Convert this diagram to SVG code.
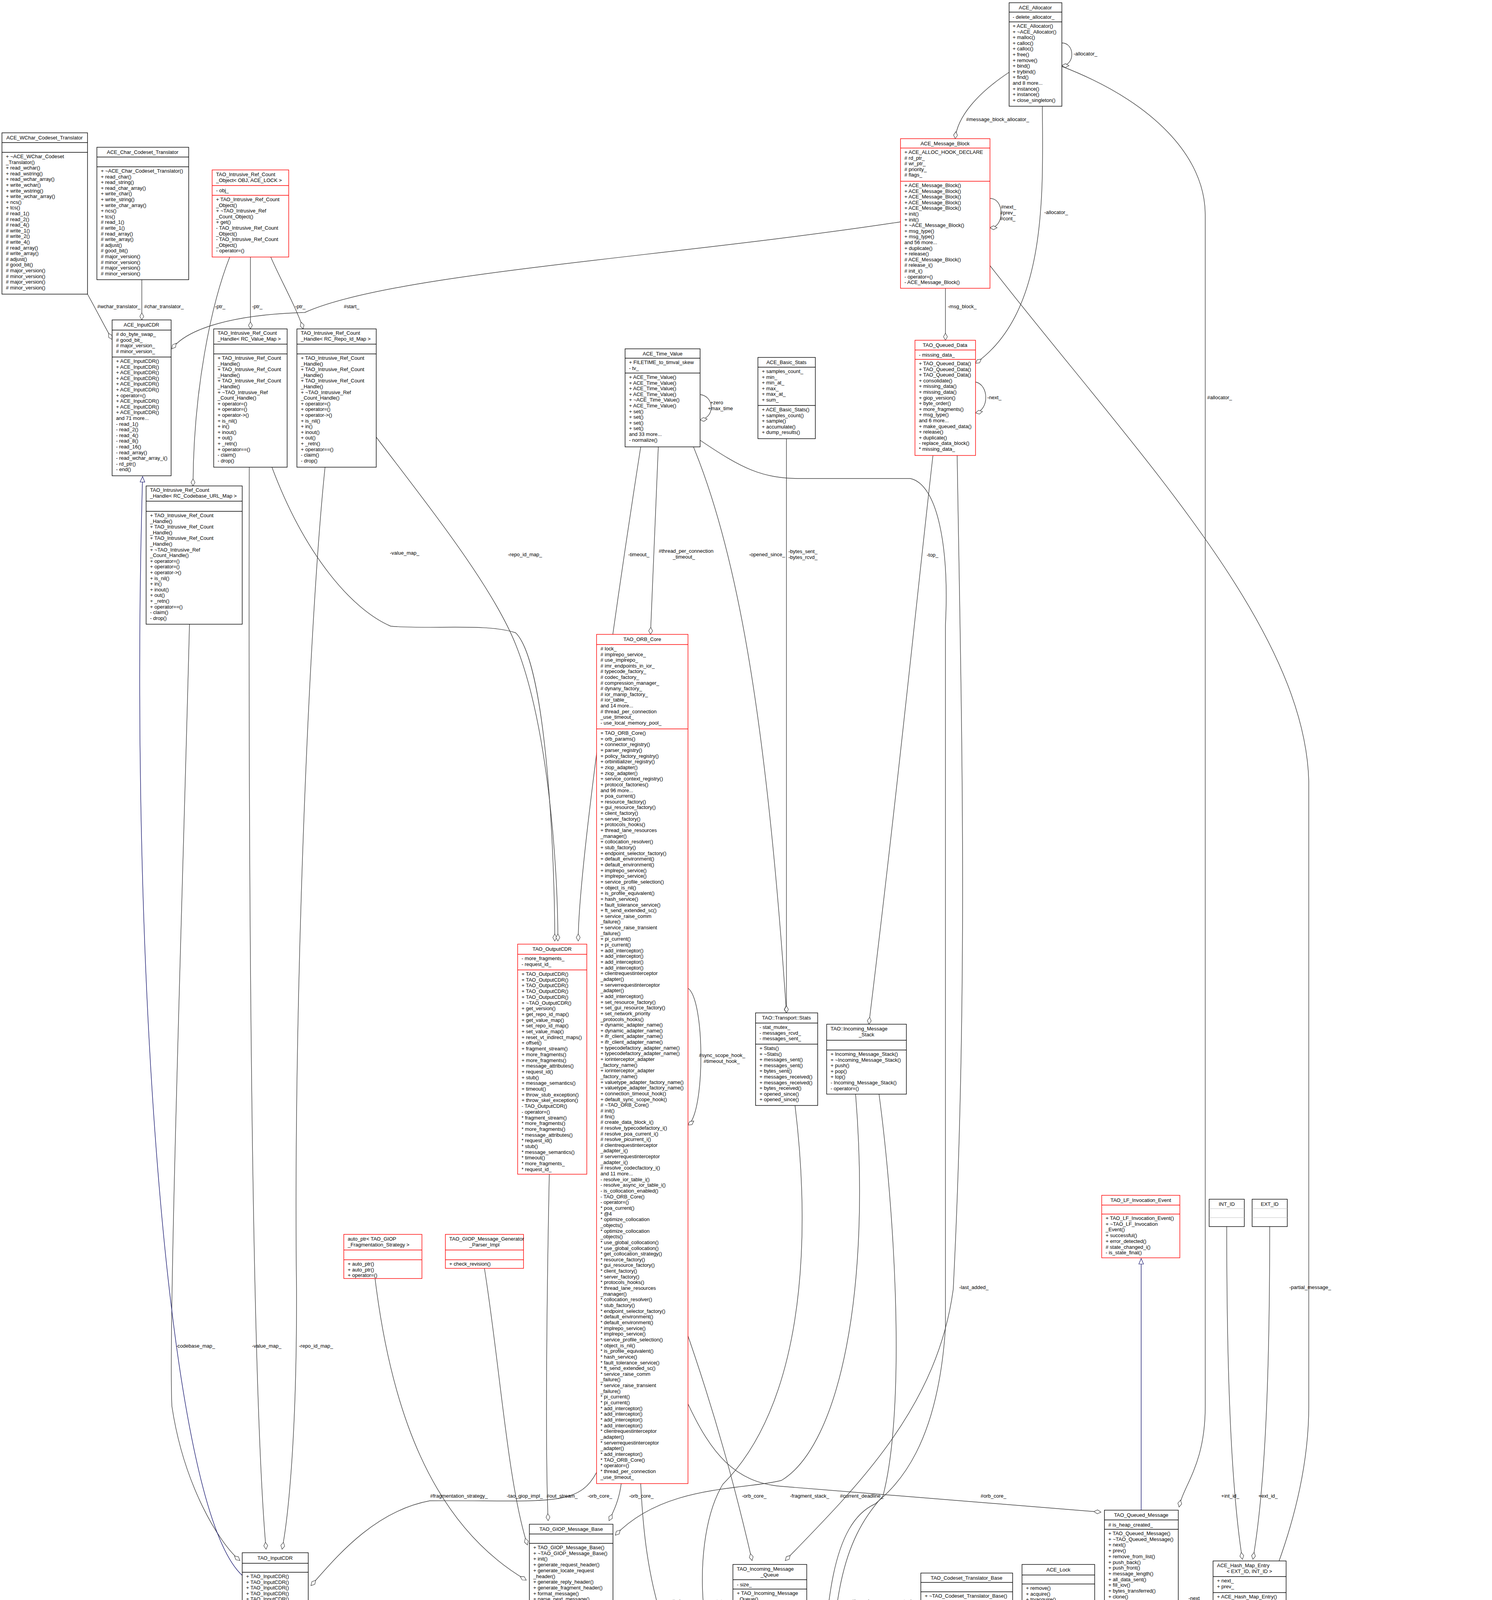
<svg xmlns="http://www.w3.org/2000/svg" width="3819" height="5259" viewBox="0 0 3819 5259">
<style>
text{font-family:"Liberation Sans",Arial,sans-serif;font-size:13px;fill:#000}
.t{text-anchor:middle}
.b{fill:#fff;stroke:#000;stroke-width:1.4}
.r{fill:#fff;stroke:#f00;stroke-width:1.4}
.g{fill:#bfbfbf;stroke:#000;stroke-width:1.4}
.d{stroke:#000;stroke-width:1.4}
.dr{stroke:#f00;stroke-width:1.4}
.e{fill:none;stroke:#404040;stroke-width:1.4;marker-end:url(#dia)}
.i{fill:none;stroke:#191970;stroke-width:1.4;marker-end:url(#tri)}
</style>
<defs>
<marker id="dia" markerUnits="userSpaceOnUse" markerWidth="20" markerHeight="12" refX="19" refY="6" orient="auto"><path d="M1,6 L10,1 L19,6 L10,11 z" fill="#fff" stroke="#404040" stroke-width="1.2"/></marker>
<marker id="tri" markerUnits="userSpaceOnUse" markerWidth="16" markerHeight="14" refX="15" refY="7" orient="auto"><path d="M1,1 L15,7 L1,13 z" fill="#fff" stroke="#191970" stroke-width="1.2"/></marker>
</defs>
<rect width="3819" height="5259" fill="#fff"/>

<g id="connectors">
<path class="e" d="M224,753 C250,800 270,840 287,869"/><text x="249" y="789">#wchar_translator_</text>
<path class="e" d="M363,716 L363,819"/><text x="369" y="789">#char_translator_</text>
<path class="e" d="M588,658 C540,780 495,1000 494,1244"/><text x="550" y="789">-ptr_</text>
<path class="e" d="M641,658 L641,842"/><text x="645" y="789">-ptr_</text>
<path class="e" d="M693,658 C720,720 760,790 776,842"/><text x="755" y="789">-ptr_</text>
<path class="e" d="M2305,568 C1700,660 1000,700 780,800 C600,805 480,840 440,893"/><text x="880" y="789">#start_</text>
<path class="e" d="M2583,185 C2500,240 2450,300 2445,355"/><text x="2473" y="310">#message_block_allocator_</text>
<path class="e" d="M2718,110 C2752,110 2752,168 2718,168"/><text x="2748" y="142">-allocator_</text>
<path class="e" d="M2668,272 C2670,500 2680,800 2497,930"/><text x="2673" y="548">-allocator_</text>
<path class="e" d="M2718,170 C2950,260 3085,400 3085,550 L3085,3600 C3085,3750 3030,3800 3018,3858"/><text x="3090" y="1022">#allocator_</text>
<path class="e" d="M2534,508 C2572,508 2572,583 2534,583"/><text x="2562" y="534">#next_</text><text x="2560" y="549">#prev_</text><text x="2560" y="564">#cont_</text>
<path class="e" d="M2420,738 L2420,871"/><text x="2426" y="789">-msg_block_</text>
<path class="e" d="M2497,978 C2532,985 2532,1050 2497,1057"/><text x="2527" y="1022">-next_</text>
<path class="e" d="M2534,680 C2900,1150 3340,1600 3350,2000 L3350,3600 C3350,3900 3200,4180 3100,4380 C2800,4420 2400,4420 2217,4530"/><text x="3300" y="3300">-partial_message_</text>
<path class="e" d="M2388,1166 C2350,1500 2300,2000 2224,2622"/><text x="2372" y="1425">-top_</text>
<path class="e" d="M2450,1166 C2460,1800 2480,2500 2440,3300 C2400,3600 2200,3800 2010,3995"/><text x="2455" y="3300">-last_added_</text>
<path class="e" d="M1761,2530 C1805,2560 1805,2850 1761,2880"/><text x="1789" y="2706">#sync_scope_hook_</text><text x="1801" y="2721">#timeout_hook_</text>
<path class="e" d="M1685,1144 L1665,1624"/><text x="1686" y="1415">#thread_per_connection</text><text x="1722" y="1430">_timeout_</text>
<path class="e" d="M1640,1144 C1600,1400 1480,2200 1480,2409"/><text x="1608" y="1424">-timeout_</text>
<path class="e" d="M1775,1144 C1880,1400 1960,1800 2013,2593"/><text x="1917" y="1424">-opened_since_</text>
<path class="e" d="M2013,1123 L2013,2593"/><text x="2018" y="1416">-bytes_sent_</text><text x="2018" y="1431">-bytes_rcvd_</text>
<path class="e" d="M1792,1127 C1900,1200 1950,1225 2050,1225 L2330,1225 C2400,1240 2430,1400 2420,1600 L2420,3400 C2400,3700 2300,3800 2240,3850 C2130,3900 2110,4100 2103,4410"/><text x="2150" y="3834">#current_deadline_</text>
<path class="e" d="M2250,2801 C2290,3100 2320,3600 2260,3830 C2150,3950 2130,4100 2123,4410"/><text x="2180" y="4104">#incoming_message_stack_</text>
<path class="e" d="M2035,2830 C2080,3200 2050,3600 1850,3800 C1760,3950 1770,4350 2012,4585"/><text x="1823" y="4104">-stats_</text>
<path class="e" d="M1640,3798 C1650,4000 1680,4350 2012,4570"/><text x="1720" y="4104">#orb_core_</text>
<path class="e" d="M1590,3798 C1585,3840 1570,3870 1559,3893"/><text x="1610" y="3834">-orb_core_</text>
<path class="e" d="M1527,3769 C1480,3860 1400,3840 1100,3842 C950,3870 850,4000 796,4059"/><text x="1504" y="3834">-orb_core_</text>
<path class="e" d="M1406,3006 C1400,3300 1395,3700 1403,3893"/><text x="1399" y="3834">#out_stream_</text>
<path class="e" d="M1240,3247 C1280,3500 1300,3800 1350,3955"/><text x="1297" y="3834">-tao_giop_impl_</text>
<path class="e" d="M960,3273 C1000,3600 1100,3900 1347,4045"/><text x="1101" y="3834">#fragmentation_strategy_</text>
<path class="e" d="M1490,4300 C1520,4370 1560,4400 1700,4410 C1850,4420 1950,4520 2012,4578"/><text x="1554" y="4379">-messaging_object_</text>
<path class="e" d="M1925,4198 C1900,4300 1920,4500 2012,4595"/><text x="1916" y="4379">#incoming_message_queue_</text>
<path class="e" d="M2435,4176 C2350,4300 2280,4400 2217,4530"/><text x="2330" y="4368">-char_translator_</text><text x="2322" y="4383">-wchar_translator_</text>
<path class="e" d="M2685,4198 C2650,4350 2500,4390 2350,4400 C2280,4420 2250,4480 2217,4525"/><text x="2574" y="4380">#handler_lock_</text>
<path class="e" d="M2827,4330 C2780,4380 2700,4400 2400,4405 C2300,4410 2250,4480 2217,4520"/><text x="2793" y="4373">#tail_</text><text x="2785" y="4388">#head_</text>
<path class="e" d="M3175,4205 C3130,4350 3000,4380 2800,4395 C2400,4410 2270,4460 2217,4535"/><text x="3060" y="4380">#cache_map_entry_</text>
<path class="e" d="M3016,4100 C3055,4110 3060,4220 3016,4230"/><text x="3042" y="4096">-next_</text><text x="3042" y="4111">-prev_</text>
<path class="e" d="M1761,3594 C1820,3720 1880,3795 2000,3805 L2818,3871"/><text x="2510" y="3834">#orb_core_</text>
<path class="e" d="M1761,3420 C1830,3620 1880,3800 1925,3995"/><text x="1899" y="3834">-orb_core_</text>
<path class="e" d="M2190,2801 C2230,3300 2150,3700 2000,3790 C1900,3815 1700,3800 1575,3930"/><text x="2022" y="3834">-fragment_stack_</text>
<path class="e" d="M3140,3140 C3140,3500 3150,3800 3180,3992"/><text x="3172" y="3834" text-anchor="end">+int_id_</text>
<path class="e" d="M3250,3140 C3250,3500 3240,3800 3207,3992"/><text x="3221" y="3834">+ext_id_</text>
<path class="e" d="M638,1196 C636,2000 640,3500 681,3966"/><text x="645" y="3450">-value_map_</text>
<path class="e" d="M832,1196 C790,1600 750,2600 759,3300 C760,3700 735,3900 722,3966"/><text x="765" y="3450">-repo_id_map_</text>
<path class="e" d="M485,1598 C470,2200 430,3400 440,3600 C470,3800 560,3950 614,3995"/><text x="450" y="3450">-codebase_map_</text>
<path class="e" d="M696,1196 C780,1420 900,1560 1000,1603 C1100,1612 1250,1595 1320,1620 C1400,1700 1420,2200 1420,2409"/><text x="998" y="1420">-value_map_</text>
<path class="e" d="M963,1119 C1100,1300 1260,1500 1320,1650 C1400,1850 1428,2200 1428,2409"/><text x="1300" y="1424">-repo_id_map_</text>
<path class="e" d="M789,4190 C1000,4420 1300,4750 1580,5077"/><text x="1508" y="4685">+input_cdr_</text>
<path class="e" d="M2012,4776 C1850,4900 1750,4990 1718,5077"/><text x="1808" y="4982">+transport_</text>
<path class="e" d="M2012,4790 C1920,4860 1870,4950 1874,5015"/><text x="1888" y="4982">#transport_</text>
<path class="e" d="M1940,5022 C1965,4960 1990,4920 2008,4886"/><text x="1968" y="4982">#ws_</text>
<path class="e" d="M2040,4948 C2040,4990 2045,5000 2046,5012"/><text x="2045" y="4982">#transport_</text>
<path class="e" d="M2117,5015 L2117,4953"/><text x="2122" y="4982">#tms_</text>
<path class="e" d="M2310,5088 C2250,5030 2200,4990 2192,4952"/><text x="2210" y="4982">#transport_timer_</text>
<path class="e" d="M2217,4808 C2300,4900 2345,4980 2343,5084"/><text x="2326" y="4982">-transport_</text>
<path class="i" d="M620,4033 C420,3850 330,2400 365,1220"/>
<path class="i" d="M1654,5080 L1654,4832"/>
<path class="i" d="M2370,5088 C2410,5000 2434,4850 2434,4722"/>
<path class="i" d="M2921,3866 L2921,3222"/>
</g>

<g id="ACE_WChar_Codeset_Translator"><rect class="b" x="5" y="340" width="219" height="413"/><line class="d" x1="5" y1="365" x2="224" y2="365"/><line class="d" x1="5" y1="390" x2="224" y2="390"/><text class="t" x="114" y="357">ACE_WChar_Codeset_Translator</text>
<text x="15" y="390"><tspan x="15" dy="15">+ ~ACE_WChar_Codeset</tspan><tspan x="15" dy="14.6">_Translator()</tspan><tspan x="15" dy="14.6">+ read_wchar()</tspan><tspan x="15" dy="14.6">+ read_wstring()</tspan><tspan x="15" dy="14.6">+ read_wchar_array()</tspan><tspan x="15" dy="14.6">+ write_wchar()</tspan><tspan x="15" dy="14.6">+ write_wstring()</tspan><tspan x="15" dy="14.6">+ write_wchar_array()</tspan><tspan x="15" dy="14.6">+ ncs()</tspan><tspan x="15" dy="14.6">+ tcs()</tspan><tspan x="15" dy="14.6"># read_1()</tspan><tspan x="15" dy="14.6"># read_2()</tspan><tspan x="15" dy="14.6"># read_4()</tspan><tspan x="15" dy="14.6"># write_1()</tspan><tspan x="15" dy="14.6"># write_2()</tspan><tspan x="15" dy="14.6"># write_4()</tspan><tspan x="15" dy="14.6"># read_array()</tspan><tspan x="15" dy="14.6"># write_array()</tspan><tspan x="15" dy="14.6"># adjust()</tspan><tspan x="15" dy="14.6"># good_bit()</tspan><tspan x="15" dy="14.6"># major_version()</tspan><tspan x="15" dy="14.6"># minor_version()</tspan><tspan x="15" dy="14.6"># major_version()</tspan><tspan x="15" dy="14.6"># minor_version()</tspan></text></g>

<g id="ACE_Char_Codeset_Translator"><rect class="b" x="248" y="377" width="235" height="339"/><line class="d" x1="248" y1="402" x2="483" y2="402"/><line class="d" x1="248" y1="427" x2="483" y2="427"/><text class="t" x="365" y="394">ACE_Char_Codeset_Translator</text>
<text x="258" y="427"><tspan x="258" dy="15">+ ~ACE_Char_Codeset_Translator()</tspan><tspan x="258" dy="14.6">+ read_char()</tspan><tspan x="258" dy="14.6">+ read_string()</tspan><tspan x="258" dy="14.6">+ read_char_array()</tspan><tspan x="258" dy="14.6">+ write_char()</tspan><tspan x="258" dy="14.6">+ write_string()</tspan><tspan x="258" dy="14.6">+ write_char_array()</tspan><tspan x="258" dy="14.6">+ ncs()</tspan><tspan x="258" dy="14.6">+ tcs()</tspan><tspan x="258" dy="14.6"># read_1()</tspan><tspan x="258" dy="14.6"># write_1()</tspan><tspan x="258" dy="14.6"># read_array()</tspan><tspan x="258" dy="14.6"># write_array()</tspan><tspan x="258" dy="14.6"># adjust()</tspan><tspan x="258" dy="14.6"># good_bit()</tspan><tspan x="258" dy="14.6"># major_version()</tspan><tspan x="258" dy="14.6"># minor_version()</tspan><tspan x="258" dy="14.6"># major_version()</tspan><tspan x="258" dy="14.6"># minor_version()</tspan></text></g>

<g id="TAO_Intrusive_Ref_Count_Object"><rect class="r" x="543" y="435" width="196" height="223"/><line class="dr" x1="543" y1="475" x2="739" y2="475"/><line class="dr" x1="543" y1="500" x2="739" y2="500"/><text x="553" y="451">TAO_Intrusive_Ref_Count</text><text x="553" y="466">_Object&lt; OBJ, ACE_LOCK &gt;</text><text x="553" y="492">- obj_</text>
<text x="553" y="500"><tspan x="553" dy="15">+ TAO_Intrusive_Ref_Count</tspan><tspan x="553" dy="14.6">_Object()</tspan><tspan x="553" dy="14.6">+ ~TAO_Intrusive_Ref</tspan><tspan x="553" dy="14.6">_Count_Object()</tspan><tspan x="553" dy="14.6">+ get()</tspan><tspan x="553" dy="14.6">- TAO_Intrusive_Ref_Count</tspan><tspan x="553" dy="14.6">_Object()</tspan><tspan x="553" dy="14.6">- TAO_Intrusive_Ref_Count</tspan><tspan x="553" dy="14.6">_Object()</tspan><tspan x="553" dy="14.6">- operator=()</tspan></text></g>

<g id="ACE_InputCDR"><rect class="b" x="287" y="819" width="151" height="399"/><line class="d" x1="287" y1="845" x2="438" y2="845"/><line class="d" x1="287" y1="914" x2="438" y2="914"/><text class="t" x="362" y="836">ACE_InputCDR</text>
<text x="297" y="845"><tspan x="297" dy="15"># do_byte_swap_</tspan><tspan x="297" dy="14.6"># good_bit_</tspan><tspan x="297" dy="14.6"># major_version_</tspan><tspan x="297" dy="14.6"># minor_version_</tspan></text>
<text x="297" y="914"><tspan x="297" dy="15">+ ACE_InputCDR()</tspan><tspan x="297" dy="14.6">+ ACE_InputCDR()</tspan><tspan x="297" dy="14.6">+ ACE_InputCDR()</tspan><tspan x="297" dy="14.6">+ ACE_InputCDR()</tspan><tspan x="297" dy="14.6">+ ACE_InputCDR()</tspan><tspan x="297" dy="14.6">+ ACE_InputCDR()</tspan><tspan x="297" dy="14.6">+ operator=()</tspan><tspan x="297" dy="14.6">+ ACE_InputCDR()</tspan><tspan x="297" dy="14.6">+ ACE_InputCDR()</tspan><tspan x="297" dy="14.6">+ ACE_InputCDR()</tspan><tspan x="297" dy="14.6">and 71 more...</tspan><tspan x="297" dy="14.6">- read_1()</tspan><tspan x="297" dy="14.6">- read_2()</tspan><tspan x="297" dy="14.6">- read_4()</tspan><tspan x="297" dy="14.6">- read_8()</tspan><tspan x="297" dy="14.6">- read_16()</tspan><tspan x="297" dy="14.6">- read_array()</tspan><tspan x="297" dy="14.6">- read_wchar_array_i()</tspan><tspan x="297" dy="14.6">- rd_ptr()</tspan><tspan x="297" dy="14.6">- end()</tspan></text></g>

<g id="Handle_RC_Value_Map"><rect class="b" x="547" y="842" width="188" height="354"/><line class="d" x1="547" y1="881" x2="735" y2="881"/><line class="d" x1="547" y1="906" x2="735" y2="906"/><text x="557" y="857">TAO_Intrusive_Ref_Count</text><text x="557" y="872">_Handle&lt; RC_Value_Map &gt;</text>
<text x="557" y="906"><tspan x="557" dy="15">+ TAO_Intrusive_Ref_Count</tspan><tspan x="557" dy="14.6">_Handle()</tspan><tspan x="557" dy="14.6">+ TAO_Intrusive_Ref_Count</tspan><tspan x="557" dy="14.6">_Handle()</tspan><tspan x="557" dy="14.6">+ TAO_Intrusive_Ref_Count</tspan><tspan x="557" dy="14.6">_Handle()</tspan><tspan x="557" dy="14.6">+ ~TAO_Intrusive_Ref</tspan><tspan x="557" dy="14.6">_Count_Handle()</tspan><tspan x="557" dy="14.6">+ operator=()</tspan><tspan x="557" dy="14.6">+ operator=()</tspan><tspan x="557" dy="14.6">+ operator-&gt;()</tspan><tspan x="557" dy="14.6">+ is_nil()</tspan><tspan x="557" dy="14.6">+ in()</tspan><tspan x="557" dy="14.6">+ inout()</tspan><tspan x="557" dy="14.6">+ out()</tspan><tspan x="557" dy="14.6">+ _retn()</tspan><tspan x="557" dy="14.6">+ operator==()</tspan><tspan x="557" dy="14.6">- claim()</tspan><tspan x="557" dy="14.6">- drop()</tspan></text></g>

<g id="Handle_RC_Repo_Id_Map"><rect class="b" x="760" y="842" width="203" height="354"/><line class="d" x1="760" y1="881" x2="963" y2="881"/><line class="d" x1="760" y1="906" x2="963" y2="906"/><text x="770" y="857">TAO_Intrusive_Ref_Count</text><text x="770" y="872">_Handle&lt; RC_Repo_Id_Map &gt;</text>
<text x="770" y="906"><tspan x="770" dy="15">+ TAO_Intrusive_Ref_Count</tspan><tspan x="770" dy="14.6">_Handle()</tspan><tspan x="770" dy="14.6">+ TAO_Intrusive_Ref_Count</tspan><tspan x="770" dy="14.6">_Handle()</tspan><tspan x="770" dy="14.6">+ TAO_Intrusive_Ref_Count</tspan><tspan x="770" dy="14.6">_Handle()</tspan><tspan x="770" dy="14.6">+ ~TAO_Intrusive_Ref</tspan><tspan x="770" dy="14.6">_Count_Handle()</tspan><tspan x="770" dy="14.6">+ operator=()</tspan><tspan x="770" dy="14.6">+ operator=()</tspan><tspan x="770" dy="14.6">+ operator-&gt;()</tspan><tspan x="770" dy="14.6">+ is_nil()</tspan><tspan x="770" dy="14.6">+ in()</tspan><tspan x="770" dy="14.6">+ inout()</tspan><tspan x="770" dy="14.6">+ out()</tspan><tspan x="770" dy="14.6">+ _retn()</tspan><tspan x="770" dy="14.6">+ operator==()</tspan><tspan x="770" dy="14.6">- claim()</tspan><tspan x="770" dy="14.6">- drop()</tspan></text></g>

<g id="Handle_RC_Codebase_URL_Map"><rect class="b" x="374" y="1244" width="246" height="354"/><line class="d" x1="374" y1="1283" x2="620" y2="1283"/><line class="d" x1="374" y1="1309" x2="620" y2="1309"/><text x="384" y="1259">TAO_Intrusive_Ref_Count</text><text x="384" y="1274">_Handle&lt; RC_Codebase_URL_Map &gt;</text>
<text x="384" y="1309"><tspan x="384" dy="15">+ TAO_Intrusive_Ref_Count</tspan><tspan x="384" dy="14.6">_Handle()</tspan><tspan x="384" dy="14.6">+ TAO_Intrusive_Ref_Count</tspan><tspan x="384" dy="14.6">_Handle()</tspan><tspan x="384" dy="14.6">+ TAO_Intrusive_Ref_Count</tspan><tspan x="384" dy="14.6">_Handle()</tspan><tspan x="384" dy="14.6">+ ~TAO_Intrusive_Ref</tspan><tspan x="384" dy="14.6">_Count_Handle()</tspan><tspan x="384" dy="14.6">+ operator=()</tspan><tspan x="384" dy="14.6">+ operator=()</tspan><tspan x="384" dy="14.6">+ operator-&gt;()</tspan><tspan x="384" dy="14.6">+ is_nil()</tspan><tspan x="384" dy="14.6">+ in()</tspan><tspan x="384" dy="14.6">+ inout()</tspan><tspan x="384" dy="14.6">+ out()</tspan><tspan x="384" dy="14.6">+ _retn()</tspan><tspan x="384" dy="14.6">+ operator==()</tspan><tspan x="384" dy="14.6">- claim()</tspan><tspan x="384" dy="14.6">- drop()</tspan></text></g>

<g id="ACE_Allocator"><rect class="b" x="2583" y="7" width="135" height="265"/><line class="d" x1="2583" y1="31" x2="2718" y2="31"/><line class="d" x1="2583" y1="56" x2="2718" y2="56"/><text class="t" x="2650" y="24">ACE_Allocator</text><text x="2592" y="48">- delete_allocator_</text>
<text x="2592" y="56"><tspan x="2592" dy="15">+ ACE_Allocator()</tspan><tspan x="2592" dy="14.6">+ ~ACE_Allocator()</tspan><tspan x="2592" dy="14.6">+ malloc()</tspan><tspan x="2592" dy="14.6">+ calloc()</tspan><tspan x="2592" dy="14.6">+ calloc()</tspan><tspan x="2592" dy="14.6">+ free()</tspan><tspan x="2592" dy="14.6">+ remove()</tspan><tspan x="2592" dy="14.6">+ bind()</tspan><tspan x="2592" dy="14.6">+ trybind()</tspan><tspan x="2592" dy="14.6">+ find()</tspan><tspan x="2592" dy="14.6">and 8 more...</tspan><tspan x="2592" dy="14.6">+ instance()</tspan><tspan x="2592" dy="14.6">+ instance()</tspan><tspan x="2592" dy="14.6">+ close_singleton()</tspan></text></g>

<g id="ACE_Message_Block"><rect class="r" x="2305" y="355" width="229" height="383"/><line class="dr" x1="2305" y1="379" x2="2534" y2="379"/><line class="dr" x1="2305" y1="464" x2="2534" y2="464"/><text class="t" x="2419" y="372">ACE_Message_Block</text>
<text x="2315" y="379"><tspan x="2315" dy="15">+ ACE_ALLOC_HOOK_DECLARE</tspan><tspan x="2315" dy="14.6"># rd_ptr_</tspan><tspan x="2315" dy="14.6"># wr_ptr_</tspan><tspan x="2315" dy="14.6"># priority_</tspan><tspan x="2315" dy="14.6"># flags_</tspan></text>
<text x="2315" y="464"><tspan x="2315" dy="15">+ ACE_Message_Block()</tspan><tspan x="2315" dy="14.6">+ ACE_Message_Block()</tspan><tspan x="2315" dy="14.6">+ ACE_Message_Block()</tspan><tspan x="2315" dy="14.6">+ ACE_Message_Block()</tspan><tspan x="2315" dy="14.6">+ ACE_Message_Block()</tspan><tspan x="2315" dy="14.6">+ init()</tspan><tspan x="2315" dy="14.6">+ init()</tspan><tspan x="2315" dy="14.6">+ ~ACE_Message_Block()</tspan><tspan x="2315" dy="14.6">+ msg_type()</tspan><tspan x="2315" dy="14.6">+ msg_type()</tspan><tspan x="2315" dy="14.6">and 56 more...</tspan><tspan x="2315" dy="14.6">+ duplicate()</tspan><tspan x="2315" dy="14.6">+ release()</tspan><tspan x="2315" dy="14.6"># ACE_Message_Block()</tspan><tspan x="2315" dy="14.6"># release_i()</tspan><tspan x="2315" dy="14.6"># init_i()</tspan><tspan x="2315" dy="14.6">- operator=()</tspan><tspan x="2315" dy="14.6">- ACE_Message_Block()</tspan></text></g>

<g id="TAO_Queued_Data"><rect class="r" x="2342" y="871" width="155" height="295"/><line class="dr" x1="2342" y1="896" x2="2497" y2="896"/><line class="dr" x1="2342" y1="920" x2="2497" y2="920"/><text class="t" x="2419" y="888">TAO_Queued_Data</text><text x="2352" y="913">- missing_data_</text>
<text x="2352" y="920"><tspan x="2352" dy="15">+ TAO_Queued_Data()</tspan><tspan x="2352" dy="14.6">+ TAO_Queued_Data()</tspan><tspan x="2352" dy="14.6">+ TAO_Queued_Data()</tspan><tspan x="2352" dy="14.6">+ consolidate()</tspan><tspan x="2352" dy="14.6">+ missing_data()</tspan><tspan x="2352" dy="14.6">+ missing_data()</tspan><tspan x="2352" dy="14.6">+ giop_version()</tspan><tspan x="2352" dy="14.6">+ byte_order()</tspan><tspan x="2352" dy="14.6">+ more_fragments()</tspan><tspan x="2352" dy="14.6">+ msg_type()</tspan><tspan x="2352" dy="14.6">and 6 more...</tspan><tspan x="2352" dy="14.6">+ make_queued_data()</tspan><tspan x="2352" dy="14.6">+ release()</tspan><tspan x="2352" dy="14.6">+ duplicate()</tspan><tspan x="2352" dy="14.6">- replace_data_block()</tspan><tspan x="2352" dy="14.6">* missing_data_</tspan></text></g>

<g id="ACE_Basic_Stats"><rect class="b" x="1940" y="915" width="147" height="208"/><line class="d" x1="1940" y1="940" x2="2087" y2="940"/><line class="d" x1="1940" y1="1038" x2="2087" y2="1038"/><text class="t" x="2013" y="932">ACE_Basic_Stats</text>
<text x="1950" y="940"><tspan x="1950" dy="15">+ samples_count_</tspan><tspan x="1950" dy="14.6">+ min_</tspan><tspan x="1950" dy="14.6">+ min_at_</tspan><tspan x="1950" dy="14.6">+ max_</tspan><tspan x="1950" dy="14.6">+ max_at_</tspan><tspan x="1950" dy="14.6">+ sum_</tspan></text>
<text x="1950" y="1038"><tspan x="1950" dy="15">+ ACE_Basic_Stats()</tspan><tspan x="1950" dy="14.6">+ samples_count()</tspan><tspan x="1950" dy="14.6">+ sample()</tspan><tspan x="1950" dy="14.6">+ accumulate()</tspan><tspan x="1950" dy="14.6">+ dump_results()</tspan></text></g>

<g id="ACE_Time_Value"><rect class="b" x="1600" y="893" width="192" height="251"/><line class="d" x1="1600" y1="917" x2="1792" y2="917"/><line class="d" x1="1600" y1="955" x2="1792" y2="955"/><text class="t" x="1696" y="910">ACE_Time_Value</text>
<text x="1610" y="917"><tspan x="1610" dy="15">+ FILETIME_to_timval_skew</tspan><tspan x="1610" dy="14.6">- tv_</tspan></text>
<text x="1610" y="955"><tspan x="1610" dy="15">+ ACE_Time_Value()</tspan><tspan x="1610" dy="14.6">+ ACE_Time_Value()</tspan><tspan x="1610" dy="14.6">+ ACE_Time_Value()</tspan><tspan x="1610" dy="14.6">+ ACE_Time_Value()</tspan><tspan x="1610" dy="14.6">+ ~ACE_Time_Value()</tspan><tspan x="1610" dy="14.6">+ ACE_Time_Value()</tspan><tspan x="1610" dy="14.6">+ set()</tspan><tspan x="1610" dy="14.6">+ set()</tspan><tspan x="1610" dy="14.6">+ set()</tspan><tspan x="1610" dy="14.6">+ set()</tspan><tspan x="1610" dy="14.6">and 33 more...</tspan><tspan x="1610" dy="14.6">- normalize()</tspan></text>
<path class="e" d="M1792,1010 C1830,1015 1830,1070 1792,1075"/><text x="1818" y="1035">+zero</text><text x="1812" y="1050">+max_time</text></g>

<g id="TAO_ORB_Core"><rect class="r" x="1527" y="1624" width="234" height="2174"/><line class="dr" x1="1527" y1="1650" x2="1761" y2="1650"/><line class="dr" x1="1527" y1="1866" x2="1761" y2="1866"/><text class="t" x="1644" y="1641">TAO_ORB_Core</text>
<text x="1537" y="1650"><tspan x="1537" dy="15"># lock_</tspan><tspan x="1537" dy="14.6"># implrepo_service_</tspan><tspan x="1537" dy="14.6"># use_implrepo_</tspan><tspan x="1537" dy="14.6"># imr_endpoints_in_ior_</tspan><tspan x="1537" dy="14.6"># typecode_factory_</tspan><tspan x="1537" dy="14.6"># codec_factory_</tspan><tspan x="1537" dy="14.6"># compression_manager_</tspan><tspan x="1537" dy="14.6"># dynany_factory_</tspan><tspan x="1537" dy="14.6"># ior_manip_factory_</tspan><tspan x="1537" dy="14.6"># ior_table_</tspan><tspan x="1537" dy="14.6">and 14 more...</tspan><tspan x="1537" dy="14.6"># thread_per_connection</tspan><tspan x="1537" dy="14.6">_use_timeout_</tspan><tspan x="1537" dy="14.6">- use_local_memory_pool_</tspan></text>
<text x="1537" y="1866"><tspan x="1537" dy="15">+ TAO_ORB_Core()</tspan><tspan x="1537" dy="14.65">+ orb_params()</tspan><tspan x="1537" dy="14.65">+ connector_registry()</tspan><tspan x="1537" dy="14.65">+ parser_registry()</tspan><tspan x="1537" dy="14.65">+ policy_factory_registry()</tspan><tspan x="1537" dy="14.65">+ orbinitializer_registry()</tspan><tspan x="1537" dy="14.65">+ ziop_adapter()</tspan><tspan x="1537" dy="14.65">+ ziop_adapter()</tspan><tspan x="1537" dy="14.65">+ service_context_registry()</tspan><tspan x="1537" dy="14.65">+ protocol_factories()</tspan><tspan x="1537" dy="14.65">and 96 more...</tspan><tspan x="1537" dy="14.65">+ poa_current()</tspan><tspan x="1537" dy="14.65">+ resource_factory()</tspan><tspan x="1537" dy="14.65">+ gui_resource_factory()</tspan><tspan x="1537" dy="14.65">+ client_factory()</tspan><tspan x="1537" dy="14.65">+ server_factory()</tspan><tspan x="1537" dy="14.65">+ protocols_hooks()</tspan><tspan x="1537" dy="14.65">+ thread_lane_resources</tspan><tspan x="1537" dy="14.65">_manager()</tspan><tspan x="1537" dy="14.65">+ collocation_resolver()</tspan><tspan x="1537" dy="14.65">+ stub_factory()</tspan><tspan x="1537" dy="14.65">+ endpoint_selector_factory()</tspan><tspan x="1537" dy="14.65">+ default_environment()</tspan><tspan x="1537" dy="14.65">+ default_environment()</tspan><tspan x="1537" dy="14.65">+ implrepo_service()</tspan><tspan x="1537" dy="14.65">+ implrepo_service()</tspan><tspan x="1537" dy="14.65">+ service_profile_selection()</tspan><tspan x="1537" dy="14.65">+ object_is_nil()</tspan><tspan x="1537" dy="14.65">+ is_profile_equivalent()</tspan><tspan x="1537" dy="14.65">+ hash_service()</tspan><tspan x="1537" dy="14.65">+ fault_tolerance_service()</tspan><tspan x="1537" dy="14.65">+ ft_send_extended_sc()</tspan><tspan x="1537" dy="14.65">+ service_raise_comm</tspan><tspan x="1537" dy="14.65">_failure()</tspan><tspan x="1537" dy="14.65">+ service_raise_transient</tspan><tspan x="1537" dy="14.65">_failure()</tspan><tspan x="1537" dy="14.65">+ pi_current()</tspan><tspan x="1537" dy="14.65">+ pi_current()</tspan><tspan x="1537" dy="14.65">+ add_interceptor()</tspan><tspan x="1537" dy="14.65">+ add_interceptor()</tspan><tspan x="1537" dy="14.65">+ add_interceptor()</tspan><tspan x="1537" dy="14.65">+ add_interceptor()</tspan><tspan x="1537" dy="14.65">+ clientrequestinterceptor</tspan><tspan x="1537" dy="14.65">_adapter()</tspan><tspan x="1537" dy="14.65">+ serverrequestinterceptor</tspan><tspan x="1537" dy="14.65">_adapter()</tspan><tspan x="1537" dy="14.65">+ add_interceptor()</tspan><tspan x="1537" dy="14.65">+ set_resource_factory()</tspan><tspan x="1537" dy="14.65">+ set_gui_resource_factory()</tspan><tspan x="1537" dy="14.65">+ set_network_priority</tspan><tspan x="1537" dy="14.65">_protocols_hooks()</tspan><tspan x="1537" dy="14.65">+ dynamic_adapter_name()</tspan><tspan x="1537" dy="14.65">+ dynamic_adapter_name()</tspan><tspan x="1537" dy="14.65">+ ifr_client_adapter_name()</tspan><tspan x="1537" dy="14.65">+ ifr_client_adapter_name()</tspan><tspan x="1537" dy="14.65">+ typecodefactory_adapter_name()</tspan><tspan x="1537" dy="14.65">+ typecodefactory_adapter_name()</tspan><tspan x="1537" dy="14.65">+ iorinterceptor_adapter</tspan><tspan x="1537" dy="14.65">_factory_name()</tspan><tspan x="1537" dy="14.65">+ iorinterceptor_adapter</tspan><tspan x="1537" dy="14.65">_factory_name()</tspan><tspan x="1537" dy="14.65">+ valuetype_adapter_factory_name()</tspan><tspan x="1537" dy="14.65">+ valuetype_adapter_factory_name()</tspan><tspan x="1537" dy="14.65">+ connection_timeout_hook()</tspan><tspan x="1537" dy="14.65">+ default_sync_scope_hook()</tspan><tspan x="1537" dy="14.65"># ~TAO_ORB_Core()</tspan><tspan x="1537" dy="14.65"># init()</tspan><tspan x="1537" dy="14.65"># fini()</tspan><tspan x="1537" dy="14.65"># create_data_block_i()</tspan><tspan x="1537" dy="14.65"># resolve_typecodefactory_i()</tspan><tspan x="1537" dy="14.65"># resolve_poa_current_i()</tspan><tspan x="1537" dy="14.65"># resolve_picurrent_i()</tspan><tspan x="1537" dy="14.65"># clientrequestinterceptor</tspan><tspan x="1537" dy="14.65">_adapter_i()</tspan><tspan x="1537" dy="14.65"># serverrequestinterceptor</tspan><tspan x="1537" dy="14.65">_adapter_i()</tspan><tspan x="1537" dy="14.65"># resolve_codecfactory_i()</tspan><tspan x="1537" dy="14.65">and 11 more...</tspan><tspan x="1537" dy="14.65">- resolve_ior_table_i()</tspan><tspan x="1537" dy="14.65">- resolve_async_ior_table_i()</tspan><tspan x="1537" dy="14.65">- is_collocation_enabled()</tspan><tspan x="1537" dy="14.65">- TAO_ORB_Core()</tspan><tspan x="1537" dy="14.65">- operator=()</tspan><tspan x="1537" dy="14.65">* poa_current()</tspan><tspan x="1537" dy="14.65">* @4</tspan><tspan x="1537" dy="14.65">* optimize_collocation</tspan><tspan x="1537" dy="14.65">_objects()</tspan><tspan x="1537" dy="14.65">* optimize_collocation</tspan><tspan x="1537" dy="14.65">_objects()</tspan><tspan x="1537" dy="14.65">* use_global_collocation()</tspan><tspan x="1537" dy="14.65">* use_global_collocation()</tspan><tspan x="1537" dy="14.65">* get_collocation_strategy()</tspan><tspan x="1537" dy="14.65">* resource_factory()</tspan><tspan x="1537" dy="14.65">* gui_resource_factory()</tspan><tspan x="1537" dy="14.65">* client_factory()</tspan><tspan x="1537" dy="14.65">* server_factory()</tspan><tspan x="1537" dy="14.65">* protocols_hooks()</tspan><tspan x="1537" dy="14.65">* thread_lane_resources</tspan><tspan x="1537" dy="14.65">_manager()</tspan><tspan x="1537" dy="14.65">* collocation_resolver()</tspan><tspan x="1537" dy="14.65">* stub_factory()</tspan><tspan x="1537" dy="14.65">* endpoint_selector_factory()</tspan><tspan x="1537" dy="14.65">* default_environment()</tspan><tspan x="1537" dy="14.65">* default_environment()</tspan><tspan x="1537" dy="14.65">* implrepo_service()</tspan><tspan x="1537" dy="14.65">* implrepo_service()</tspan><tspan x="1537" dy="14.65">* service_profile_selection()</tspan><tspan x="1537" dy="14.65">* object_is_nil()</tspan><tspan x="1537" dy="14.65">* is_profile_equivalent()</tspan><tspan x="1537" dy="14.65">* hash_service()</tspan><tspan x="1537" dy="14.65">* fault_tolerance_service()</tspan><tspan x="1537" dy="14.65">* ft_send_extended_sc()</tspan><tspan x="1537" dy="14.65">* service_raise_comm</tspan><tspan x="1537" dy="14.65">_failure()</tspan><tspan x="1537" dy="14.65">* service_raise_transient</tspan><tspan x="1537" dy="14.65">_failure()</tspan><tspan x="1537" dy="14.65">* pi_current()</tspan><tspan x="1537" dy="14.65">* pi_current()</tspan><tspan x="1537" dy="14.65">* add_interceptor()</tspan><tspan x="1537" dy="14.65">* add_interceptor()</tspan><tspan x="1537" dy="14.65">* add_interceptor()</tspan><tspan x="1537" dy="14.65">* add_interceptor()</tspan><tspan x="1537" dy="14.65">* clientrequestinterceptor</tspan><tspan x="1537" dy="14.65">_adapter()</tspan><tspan x="1537" dy="14.65">* serverrequestinterceptor</tspan><tspan x="1537" dy="14.65">_adapter()</tspan><tspan x="1537" dy="14.65">* add_interceptor()</tspan><tspan x="1537" dy="14.65">* TAO_ORB_Core()</tspan><tspan x="1537" dy="14.65">* operator=()</tspan><tspan x="1537" dy="14.65">* thread_per_connection</tspan><tspan x="1537" dy="14.65">_use_timeout_</tspan></text></g>

<g id="TAO_OutputCDR"><rect class="r" x="1325" y="2417" width="177" height="589"/><line class="dr" x1="1325" y1="2443" x2="1502" y2="2443"/><line class="dr" x1="1325" y1="2483" x2="1502" y2="2483"/><text class="t" x="1413" y="2434">TAO_OutputCDR</text>
<text x="1335" y="2443"><tspan x="1335" dy="15">- more_fragments_</tspan><tspan x="1335" dy="14.6">- request_id_</tspan></text>
<text x="1335" y="2483"><tspan x="1335" dy="15">+ TAO_OutputCDR()</tspan><tspan x="1335" dy="14.7">+ TAO_OutputCDR()</tspan><tspan x="1335" dy="14.7">+ TAO_OutputCDR()</tspan><tspan x="1335" dy="14.7">+ TAO_OutputCDR()</tspan><tspan x="1335" dy="14.7">+ TAO_OutputCDR()</tspan><tspan x="1335" dy="14.7">+ ~TAO_OutputCDR()</tspan><tspan x="1335" dy="14.7">+ get_version()</tspan><tspan x="1335" dy="14.7">+ get_repo_id_map()</tspan><tspan x="1335" dy="14.7">+ get_value_map()</tspan><tspan x="1335" dy="14.7">+ set_repo_id_map()</tspan><tspan x="1335" dy="14.7">+ set_value_map()</tspan><tspan x="1335" dy="14.7">+ reset_vt_indirect_maps()</tspan><tspan x="1335" dy="14.7">+ offset()</tspan><tspan x="1335" dy="14.7">+ fragment_stream()</tspan><tspan x="1335" dy="14.7">+ more_fragments()</tspan><tspan x="1335" dy="14.7">+ more_fragments()</tspan><tspan x="1335" dy="14.7">+ message_attributes()</tspan><tspan x="1335" dy="14.7">+ request_id()</tspan><tspan x="1335" dy="14.7">+ stub()</tspan><tspan x="1335" dy="14.7">+ message_semantics()</tspan><tspan x="1335" dy="14.7">+ timeout()</tspan><tspan x="1335" dy="14.7">+ throw_stub_exception()</tspan><tspan x="1335" dy="14.7">+ throw_skel_exception()</tspan><tspan x="1335" dy="14.7">- TAO_OutputCDR()</tspan><tspan x="1335" dy="14.7">- operator=()</tspan><tspan x="1335" dy="14.7">* fragment_stream()</tspan><tspan x="1335" dy="14.7">* more_fragments()</tspan><tspan x="1335" dy="14.7">* more_fragments()</tspan><tspan x="1335" dy="14.7">* message_attributes()</tspan><tspan x="1335" dy="14.7">* request_id()</tspan><tspan x="1335" dy="14.7">* stub()</tspan><tspan x="1335" dy="14.7">* message_semantics()</tspan><tspan x="1335" dy="14.7">* timeout()</tspan><tspan x="1335" dy="14.7">* more_fragments_</tspan><tspan x="1335" dy="14.7">* request_id_</tspan></text></g>

<g id="TAO_Transport_Stats"><rect class="b" x="1934" y="2593" width="159" height="237"/><line class="d" x1="1934" y1="2619" x2="2093" y2="2619"/><line class="d" x1="1934" y1="2673" x2="2093" y2="2673"/><text class="t" x="2013" y="2610">TAO::Transport::Stats</text>
<text x="1944" y="2619"><tspan x="1944" dy="15">- stat_mutex_</tspan><tspan x="1944" dy="14.6">- messages_rcvd_</tspan><tspan x="1944" dy="14.6">- messages_sent_</tspan></text>
<text x="1944" y="2673"><tspan x="1944" dy="15">+ Stats()</tspan><tspan x="1944" dy="14.6">+ ~Stats()</tspan><tspan x="1944" dy="14.6">+ messages_sent()</tspan><tspan x="1944" dy="14.6">+ messages_sent()</tspan><tspan x="1944" dy="14.6">+ bytes_sent()</tspan><tspan x="1944" dy="14.6">+ messages_received()</tspan><tspan x="1944" dy="14.6">+ messages_received()</tspan><tspan x="1944" dy="14.6">+ bytes_received()</tspan><tspan x="1944" dy="14.6">+ opened_since()</tspan><tspan x="1944" dy="14.6">+ opened_since()</tspan></text></g>

<g id="TAO_Incoming_Message_Stack"><rect class="b" x="2116" y="2622" width="204" height="179"/><line class="d" x1="2116" y1="2663" x2="2320" y2="2663"/><line class="d" x1="2116" y1="2688" x2="2320" y2="2688"/><text x="2126" y="2638">TAO::Incoming_Message</text><text class="t" x="2218" y="2653">_Stack</text>
<text x="2126" y="2688"><tspan x="2126" dy="15">+ Incoming_Message_Stack()</tspan><tspan x="2126" dy="14.6">+ ~Incoming_Message_Stack()</tspan><tspan x="2126" dy="14.6">+ push()</tspan><tspan x="2126" dy="14.6">+ pop()</tspan><tspan x="2126" dy="14.6">+ top()</tspan><tspan x="2126" dy="14.6">- Incoming_Message_Stack()</tspan><tspan x="2126" dy="14.6">- operator=()</tspan></text></g>

<g id="Fragmentation_Strategy"><rect class="r" x="880" y="3160" width="200" height="113"/><line class="dr" x1="880" y1="3200" x2="1080" y2="3200"/><line class="dr" x1="880" y1="3225" x2="1080" y2="3225"/><text x="890" y="3176">auto_ptr&lt; TAO_GIOP</text><text x="890" y="3191">_Fragmentation_Strategy &gt;</text>
<text x="890" y="3225"><tspan x="890" dy="15">+ auto_ptr()</tspan><tspan x="890" dy="14.6">+ auto_ptr()</tspan><tspan x="890" dy="14.6">+ operator=()</tspan></text></g>

<g id="TAO_GIOP_Message_Generator_Parser_Impl"><rect class="r" x="1140" y="3160" width="200" height="87"/><line class="dr" x1="1140" y1="3200" x2="1340" y2="3200"/><line class="dr" x1="1140" y1="3225" x2="1340" y2="3225"/><text x="1150" y="3176">TAO_GIOP_Message_Generator</text><text class="t" x="1240" y="3191">_Parser_Impl</text><text x="1150" y="3240">+ check_revision()</text></g>

<g id="TAO_InputCDR"><rect class="b" x="620" y="3975" width="169" height="252"/><line class="d" x1="620" y1="4002" x2="789" y2="4002"/><line class="d" x1="620" y1="4025" x2="789" y2="4025"/><text class="t" x="704" y="3993">TAO_InputCDR</text>
<text x="630" y="4025"><tspan x="630" dy="15">+ TAO_InputCDR()</tspan><tspan x="630" dy="14.6">+ TAO_InputCDR()</tspan><tspan x="630" dy="14.6">+ TAO_InputCDR()</tspan><tspan x="630" dy="14.6">+ TAO_InputCDR()</tspan><tspan x="630" dy="14.6">+ TAO_InputCDR()</tspan><tspan x="630" dy="14.6">+ TAO_InputCDR()</tspan><tspan x="630" dy="14.6">+ TAO_InputCDR()</tspan><tspan x="630" dy="14.6">+ TAO_InputCDR()</tspan><tspan x="630" dy="14.6">+ TAO_InputCDR()</tspan><tspan x="630" dy="14.6">+ TAO_InputCDR()</tspan><tspan x="630" dy="14.6">and 11 more...</tspan><tspan x="630" dy="14.6">+ throw_stub_exception()</tspan><tspan x="630" dy="14.6">+ throw_skel_exception()</tspan></text></g>

<g id="TAO_GIOP_Message_Base"><rect class="b" x="1355" y="3902" width="214" height="398"/><line class="d" x1="1355" y1="3927" x2="1569" y2="3927"/><line class="d" x1="1355" y1="3951" x2="1569" y2="3951"/><text class="t" x="1462" y="3919">TAO_GIOP_Message_Base</text>
<text x="1365" y="3951"><tspan x="1365" dy="15">+ TAO_GIOP_Message_Base()</tspan><tspan x="1365" dy="14.7">+ ~TAO_GIOP_Message_Base()</tspan><tspan x="1365" dy="14.7">+ init()</tspan><tspan x="1365" dy="14.7">+ generate_request_header()</tspan><tspan x="1365" dy="14.7">+ generate_locate_request</tspan><tspan x="1365" dy="14.7">_header()</tspan><tspan x="1365" dy="14.7">+ generate_reply_header()</tspan><tspan x="1365" dy="14.7">+ generate_fragment_header()</tspan><tspan x="1365" dy="14.7">+ format_message()</tspan><tspan x="1365" dy="14.7">+ parse_next_message()</tspan><tspan x="1365" dy="14.7">+ extract_next_message()</tspan><tspan x="1365" dy="14.7">and 11 more...</tspan><tspan x="1365" dy="14.7">- decompress()</tspan><tspan x="1365" dy="14.7">- process_request()</tspan><tspan x="1365" dy="14.7">- process_locate_request()</tspan><tspan x="1365" dy="14.7">- get_parser()</tspan><tspan x="1365" dy="14.7">- dump_consolidated_msg()</tspan><tspan x="1365" dy="14.7">- dump_msg()</tspan><tspan x="1365" dy="14.7">- write_protocol_header()</tspan><tspan x="1365" dy="14.7">- make_send_locate_reply()</tspan><tspan x="1365" dy="14.7">- send_error()</tspan><tspan x="1365" dy="14.7">- send_close_connection()</tspan><tspan x="1365" dy="14.7">and 6 more...</tspan></text></g>

<g id="TAO_Pluggable_Reply_Params_Base"><rect class="b" x="1556" y="4535" width="197" height="295"/><line class="d" x1="1556" y1="4575" x2="1753" y2="4575"/><line class="d" x1="1556" y1="4706" x2="1753" y2="4706"/><text x="1566" y="4551">TAO_Pluggable_Reply</text><text class="t" x="1654" y="4566">_Params_Base</text>
<text x="1566" y="4575"><tspan x="1566" dy="15">+ svc_ctx_</tspan><tspan x="1566" dy="14.7">+ request_id_</tspan><tspan x="1566" dy="14.7">+ is_dsi_</tspan><tspan x="1566" dy="14.7">+ dsi_nvlist_align_</tspan><tspan x="1566" dy="14.7">+ argument_flag_</tspan><tspan x="1566" dy="14.7"># service_context_</tspan><tspan x="1566" dy="14.7">- reply_status_</tspan><tspan x="1566" dy="14.7">- locate_reply_status_</tspan></text>
<text x="1566" y="4706"><tspan x="1566" dy="15">+ TAO_Pluggable_Reply</tspan><tspan x="1566" dy="14.7">_Params_Base()</tspan><tspan x="1566" dy="14.7">+ service_context_notowned()</tspan><tspan x="1566" dy="14.7">+ service_context_notowned()</tspan><tspan x="1566" dy="14.7">+ reply_status()</tspan><tspan x="1566" dy="14.7">+ reply_status()</tspan><tspan x="1566" dy="14.7">+ locate_reply_status()</tspan><tspan x="1566" dy="14.7">+ locate_reply_status()</tspan></text></g>

<g id="TAO_Pluggable_Reply_Params"><rect class="g" x="1572" y="5080" width="166" height="105"/><line class="d" x1="1572" y1="5120" x2="1738" y2="5120"/><line class="d" x1="1572" y1="5148" x2="1738" y2="5148"/><text x="1582" y="5096">TAO_Pluggable_Reply</text><text class="t" x="1655" y="5111">_Params</text>
<text x="1582" y="5148"><tspan x="1582" dy="15">+ TAO_Pluggable_Reply</tspan><tspan x="1582" dy="14.7">_Params()</tspan></text></g>

<g id="TAO_Transport"><rect class="b" x="2012" y="4418" width="205" height="530"/><line class="d" x1="2012" y1="4441" x2="2217" y2="4441"/><line class="d" x1="2012" y1="4464" x2="2217" y2="4464"/><text class="t" x="2114" y="4435">TAO_Transport</text>
<text x="2022" y="4464"><tspan x="2022" dy="15">+ TAO_Transport()</tspan><tspan x="2022" dy="14.7">+ ~TAO_Transport()</tspan><tspan x="2022" dy="14.7">+ tag()</tspan><tspan x="2022" dy="14.7">+ orb_core()</tspan><tspan x="2022" dy="14.7">+ tms()</tspan><tspan x="2022" dy="14.7">+ wait_strategy()</tspan><tspan x="2022" dy="14.7">+ handle_output()</tspan><tspan x="2022" dy="14.7">+ bidirectional_flag()</tspan><tspan x="2022" dy="14.7">+ bidirectional_flag()</tspan><tspan x="2022" dy="14.7">+ cache_map_entry()</tspan><tspan x="2022" dy="14.7">and 15 more...</tspan><tspan x="2022" dy="14.7">+ idle_after_send()</tspan><tspan x="2022" dy="14.7">+ idle_after_reply()</tspan><tspan x="2022" dy="14.7">+ close_connection()</tspan><tspan x="2022" dy="14.7">* TAO_Reactive_Flushing</tspan><tspan x="2022" dy="14.7">_Strategy</tspan><tspan x="2022" dy="14.7">* TAO_Leader_Follower</tspan><tspan x="2022" dy="14.7">_Flushing_Strategy</tspan><tspan x="2022" dy="14.7">* TAO_Thread_Per_Connection</tspan><tspan x="2022" dy="14.7">_Handler</tspan><tspan x="2022" dy="14.7">* tag_</tspan><tspan x="2022" dy="14.7">* bidirectional_flag_</tspan><tspan x="2022" dy="14.7">* opening_connection</tspan><tspan x="2022" dy="14.7">_role_</tspan><tspan x="2022" dy="14.7">* flush_timer_id_</tspan><tspan x="2022" dy="14.7">* id_</tspan><tspan x="2022" dy="14.7">* purging_order_</tspan><tspan x="2022" dy="14.7">* recv_buffer_size_</tspan><tspan x="2022" dy="14.7">and 86 more...</tspan><tspan x="2022" dy="14.7">* idle_after_send()</tspan><tspan x="2022" dy="14.7">* idle_after_reply()</tspan><tspan x="2022" dy="14.7">* close_connection()</tspan></text></g>

<g id="TAO_Incoming_Message_Queue"><rect class="b" x="1876" y="4005" width="189" height="193"/><line class="d" x1="1876" y1="4044" x2="2065" y2="4044"/><line class="d" x1="1876" y1="4068" x2="2065" y2="4068"/><text x="1886" y="4021">TAO_Incoming_Message</text><text class="t" x="1970" y="4036">_Queue</text><text x="1886" y="4061">- size_</text>
<text x="1886" y="4068"><tspan x="1886" dy="15">+ TAO_Incoming_Message</tspan><tspan x="1886" dy="14.7">_Queue()</tspan><tspan x="1886" dy="14.7">+ ~TAO_Incoming_Message</tspan><tspan x="1886" dy="14.7">_Queue()</tspan><tspan x="1886" dy="14.7">+ dequeue_head()</tspan><tspan x="1886" dy="14.7">+ dequeue_tail()</tspan><tspan x="1886" dy="14.7">+ enqueue_tail()</tspan><tspan x="1886" dy="14.7">+ queue_length()</tspan></text></g>

<g id="TAO_Codeset_Translator_Base"><rect class="b" x="2357" y="4027" width="235" height="148"/><line class="d" x1="2357" y1="4051" x2="2592" y2="4051"/><line class="d" x1="2357" y1="4075" x2="2592" y2="4075"/><text class="t" x="2474" y="4044">TAO_Codeset_Translator_Base</text>
<text x="2367" y="4075"><tspan x="2367" dy="15">+ ~TAO_Codeset_Translator_Base()</tspan><tspan x="2367" dy="14.7">+ init()</tspan><tspan x="2367" dy="14.7">+ ncs()</tspan><tspan x="2367" dy="14.7">+ tcs()</tspan><tspan x="2367" dy="14.7">+ assign()</tspan><tspan x="2367" dy="14.7">+ assign()</tspan></text></g>

<g id="ACE_Lock"><rect class="b" x="2616" y="4005" width="186" height="193"/><line class="d" x1="2616" y1="4032" x2="2802" y2="4032"/><line class="d" x1="2616" y1="4055" x2="2802" y2="4055"/><text class="t" x="2709" y="4023">ACE_Lock</text>
<text x="2626" y="4055"><tspan x="2626" dy="15">+ remove()</tspan><tspan x="2626" dy="14.7">+ acquire()</tspan><tspan x="2626" dy="14.7">+ tryacquire()</tspan><tspan x="2626" dy="14.7">+ release()</tspan><tspan x="2626" dy="14.7">+ acquire_read()</tspan><tspan x="2626" dy="14.7">+ acquire_write()</tspan><tspan x="2626" dy="14.7">+ tryacquire_read()</tspan><tspan x="2626" dy="14.7">+ tryacquire_write()</tspan><tspan x="2626" dy="14.7">+ tryacquire_write_upgrade()</tspan></text></g>

<g id="TAO_Queued_Message"><rect class="b" x="2827" y="3866" width="189" height="471"/><line class="d" x1="2827" y1="3891" x2="3016" y2="3891"/><line class="d" x1="2827" y1="3915" x2="3016" y2="3915"/><text class="t" x="2921" y="3883">TAO_Queued_Message</text><text x="2837" y="3908"># is_heap_created_</text>
<text x="2837" y="3915"><tspan x="2837" dy="15">+ TAO_Queued_Message()</tspan><tspan x="2837" dy="14.7">+ ~TAO_Queued_Message()</tspan><tspan x="2837" dy="14.7">+ next()</tspan><tspan x="2837" dy="14.7">+ prev()</tspan><tspan x="2837" dy="14.7">+ remove_from_list()</tspan><tspan x="2837" dy="14.7">+ push_back()</tspan><tspan x="2837" dy="14.7">+ push_front()</tspan><tspan x="2837" dy="14.7">+ message_length()</tspan><tspan x="2837" dy="14.7">+ all_data_sent()</tspan><tspan x="2837" dy="14.7">+ fill_iov()</tspan><tspan x="2837" dy="14.7">+ bytes_transferred()</tspan><tspan x="2837" dy="14.7">+ clone()</tspan><tspan x="2837" dy="14.7">+ destroy()</tspan><tspan x="2837" dy="14.7">+ is_expired()</tspan><tspan x="2837" dy="14.7">+ copy_if_necessary()</tspan><tspan x="2837" dy="14.7">* next()</tspan><tspan x="2837" dy="14.7">* prev()</tspan><tspan x="2837" dy="14.7">* remove_from_list()</tspan><tspan x="2837" dy="14.7">* push_back()</tspan><tspan x="2837" dy="14.7">* push_front()</tspan><tspan x="2837" dy="14.7">* message_length()</tspan><tspan x="2837" dy="14.7">* all_data_sent()</tspan><tspan x="2837" dy="14.7">* fill_iov()</tspan><tspan x="2837" dy="14.7">* bytes_transferred()</tspan><tspan x="2837" dy="14.7">* clone()</tspan><tspan x="2837" dy="14.7">* destroy()</tspan><tspan x="2837" dy="14.7">* is_expired()</tspan><tspan x="2837" dy="14.7">* copy_if_necessary()</tspan></text></g>

<g id="ACE_Hash_Map_Entry"><rect class="b" x="3105" y="3996" width="187" height="209"/><line class="d" x1="3105" y1="4036" x2="3292" y2="4036"/><line class="d" x1="3105" y1="4077" x2="3292" y2="4077"/><text x="3115" y="4012">ACE_Hash_Map_Entry</text><text class="t" x="3198" y="4027">&lt; EXT_ID, INT_ID &gt;</text>
<text x="3115" y="4036"><tspan x="3115" dy="15">+ next_</tspan><tspan x="3115" dy="14.7">+ prev_</tspan></text>
<text x="3115" y="4077"><tspan x="3115" dy="15">+ ACE_Hash_Map_Entry()</tspan><tspan x="3115" dy="14.7">+ ACE_Hash_Map_Entry()</tspan><tspan x="3115" dy="14.7">+ ~ACE_Hash_Map_Entry()</tspan><tspan x="3115" dy="14.7">+ key()</tspan><tspan x="3115" dy="14.7">+ key()</tspan><tspan x="3115" dy="14.7">+ item()</tspan><tspan x="3115" dy="14.7">+ item()</tspan><tspan x="3115" dy="14.7">+ dump()</tspan></text></g>

<g id="ACE_Event_Handler"><rect class="r" x="2360" y="4645" width="143" height="75"/><line class="dr" x1="2360" y1="4669" x2="2503" y2="4669"/><line class="dr" x1="2360" y1="4695" x2="2503" y2="4695"/><text class="t" x="2431" y="4662">ACE_Event_Handler</text><text x="2370" y="4687">- priority_</text></g>

<g id="TAO_Wait_Strategy"><rect class="b" x="1799" y="5022" width="166" height="221"/><line class="d" x1="1799" y1="5046" x2="1965" y2="5046"/><line class="d" x1="1799" y1="5070" x2="1965" y2="5070"/><text class="t" x="1882" y="5039">TAO_Wait_Strategy</text><text x="1809" y="5063"># is_registered_</text>
<text x="1809" y="5070"><tspan x="1809" dy="15">+ TAO_Wait_Strategy()</tspan><tspan x="1809" dy="14.7">+ ~TAO_Wait_Strategy()</tspan><tspan x="1809" dy="14.7">+ sending_request()</tspan><tspan x="1809" dy="14.7">+ finished_request()</tspan><tspan x="1809" dy="14.7">+ wait()</tspan><tspan x="1809" dy="14.7">+ register_handler()</tspan><tspan x="1809" dy="14.7">+ non_blocking()</tspan><tspan x="1809" dy="14.7">+ can_process_upcalls()</tspan><tspan x="1809" dy="14.7">+ defer_upcall()</tspan><tspan x="1809" dy="14.7">+ is_registered()</tspan><tspan x="1809" dy="14.7">+ is_registered()</tspan></text></g>

<g id="TAO_Transport_Mux_Strategy"><rect class="b" x="2008" y="5015" width="219" height="236"/><line class="d" x1="2008" y1="5039" x2="2227" y2="5039"/><line class="d" x1="2008" y1="5065" x2="2227" y2="5065"/><text class="t" x="2117" y="5032">TAO_Transport_Mux_Strategy</text>
<text x="2018" y="5065"><tspan x="2018" dy="15">+ TAO_Transport_Mux_Strategy()</tspan><tspan x="2018" dy="14.7">+ ~TAO_Transport_Mux</tspan><tspan x="2018" dy="14.7">_Strategy()</tspan><tspan x="2018" dy="14.7">+ request_id()</tspan><tspan x="2018" dy="14.7">+ bind_dispatcher()</tspan><tspan x="2018" dy="14.7">+ unbind_dispatcher()</tspan><tspan x="2018" dy="14.7">+ reply_timed_out()</tspan><tspan x="2018" dy="14.7">+ dispatch_reply()</tspan><tspan x="2018" dy="14.7">+ idle_after_send()</tspan><tspan x="2018" dy="14.7">+ idle_after_reply()</tspan><tspan x="2018" dy="14.7">+ connection_closed()</tspan><tspan x="2018" dy="14.7">+ has_request()</tspan></text></g>

<g id="TAO_Transport_Timer"><rect class="b" x="2260" y="5088" width="170" height="90"/><line class="d" x1="2260" y1="5112" x2="2430" y2="5112"/><line class="d" x1="2260" y1="5138" x2="2430" y2="5138"/><text class="t" x="2345" y="5105">TAO_Transport_Timer</text>
<text x="2270" y="5138"><tspan x="2270" dy="15">+ TAO_Transport_Timer()</tspan><tspan x="2270" dy="14.7">+ handle_timeout()</tspan></text></g>

<g id="TAO_LF_Invocation_Event"><rect class="r" x="2820" y="3060" width="200" height="160"/><line class="dr" x1="2820" y1="3085" x2="3020" y2="3085"/><line class="dr" x1="2820" y1="3108" x2="3020" y2="3108"/><text class="t" x="2920" y="3077">TAO_LF_Invocation_Event</text>
<text x="2830" y="3108"><tspan x="2830" dy="15">+ TAO_LF_Invocation_Event()</tspan><tspan x="2830" dy="14.7">+ ~TAO_LF_Invocation</tspan><tspan x="2830" dy="14.7">_Event()</tspan><tspan x="2830" dy="14.7">+ successful()</tspan><tspan x="2830" dy="14.7">+ error_detected()</tspan><tspan x="2830" dy="14.7"># state_changed_i()</tspan><tspan x="2830" dy="14.7">- is_state_final()</tspan></text></g>

<g id="INT_ID"><rect class="b" x="3095" y="3070" width="90" height="70" stroke="#bfbfbf"/><line x1="3095" y1="3094" x2="3185" y2="3094" stroke="#bfbfbf"/><line x1="3095" y1="3117" x2="3185" y2="3117" stroke="#bfbfbf"/><text class="t" x="3140" y="3087">INT_ID</text></g>
<g id="EXT_ID"><rect class="b" x="3205" y="3070" width="90" height="70" stroke="#bfbfbf"/><line x1="3205" y1="3094" x2="3295" y2="3094" stroke="#bfbfbf"/><line x1="3205" y1="3117" x2="3295" y2="3117" stroke="#bfbfbf"/><text class="t" x="3250" y="3087">EXT_ID</text></g>
</svg>
